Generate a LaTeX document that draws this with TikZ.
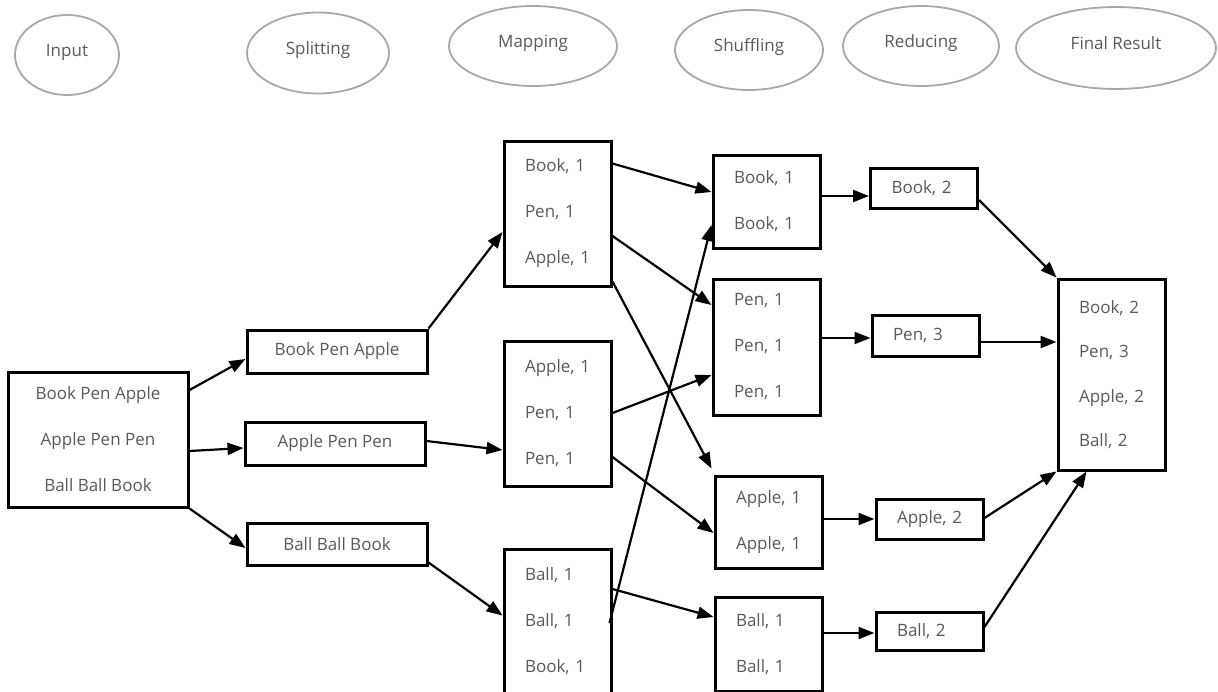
\documentclass[tikz,border=0pt]{standalone}
\usepackage{fontspec}
\setmainfont{Open Sans}
\usetikzlibrary{arrows.meta,shapes.geometric}
\definecolor{txtgray}{HTML}{595959}
\definecolor{ovalgray}{HTML}{A8A8A8}

\begin{document}
\begin{tikzpicture}[x=1pt,y=-1pt,
  stage/.style={ellipse, draw=ovalgray, line width=1.8pt, text=txtgray,
    font=\fontsize{17}{19}\selectfont, inner sep=0pt,
    text height=12pt, text depth=10pt},
  box/.style={draw=black, line width=3pt, text=txtgray,
    font=\fontsize{17}{46}\selectfont, inner sep=0pt},
  listbox/.style={box, text width=65pt, align=left, inner xsep=21pt, inner ysep=0pt,
    minimum width=107pt},
  linebox/.style={box, minimum width=180pt, minimum height=43pt, align=center},
  arr/.style={line width=2.2pt, -{Triangle[length=16pt,width=12pt]}}]
\useasboundingbox (0,0) rectangle (1218,691);

% stage labels
\node[stage, minimum width=104pt, minimum height=80pt] (lInput) at (67,55) {Input};
\node[stage, minimum width=142pt, minimum height=81pt] (lSplit) at (318,53) {Splitting};
\node[stage, minimum width=168pt, minimum height=80pt] (lMap) at (533,46) {Mapping};
\node[stage, minimum width=148pt, minimum height=80pt] (lShuf) at (749,50) {Shuffling};
\node[stage, minimum width=156pt, minimum height=80pt] (lRed) at (921,46) {Reducing};
\node[stage, minimum width=200pt, minimum height=82pt] (lRes) at (1116,48) {Final Result};

% input
\node[box, minimum width=180pt, minimum height=135pt, align=center] (in) at (98,439.5)
  {Book Pen Apple\\Apple Pen Pen\\Ball Ball Book};

% splitting
\node[linebox] (s1) at (337,351.5) {Book Pen Apple};
\node[linebox] (s2) at (335,443.5) {Apple Pen Pen};
\node[linebox, minimum height=42pt] (s3) at (337,544) {Ball Ball Book};

% mapping
\node[listbox, minimum height=145pt] (m1) at (557.5,213.5) {Book, 1\\Pen, 1\\Apple, 1};
\node[listbox, minimum height=145pt] (m2) at (557.5,413.5) {Apple, 1\\Pen, 1\\Pen, 1};
\node[listbox, minimum height=145pt] (m3) at (557.5,621.5) {Ball, 1\\Ball, 1\\Book, 1};

% shuffling
\node[listbox, minimum height=93pt] (sh1) at (766.5,201.5) {Book, 1\\Book, 1};
\node[listbox, minimum height=136pt] (sh2) at (766.5,347) {Pen, 1\\Pen, 1\\Pen, 1};
\node[listbox, minimum height=92pt] (sh3) at (768.5,522) {Apple, 1\\Apple, 1};
\node[listbox, minimum height=94pt] (sh4) at (768.5,644) {Ball, 1\\Ball, 1};

% reducing
\node[listbox, minimum height=40pt] (r1) at (924,188) {Book, 2};
\node[listbox, minimum height=41pt] (r2) at (925.5,335.5) {Pen, 3};
\node[listbox, minimum height=40pt] (r3) at (929.5,519) {Apple, 2};
\node[listbox, minimum height=38pt] (r4) at (929.5,631) {Ball, 2};

% final result
\node[listbox, minimum height=191pt, font=\fontsize{17}{44.3}\selectfont] (fin) at (1111.5,374.5)
  {Book, 2\\Pen, 3\\Apple, 2\\Ball, 2};

% input -> splitting
\draw[arr] ([yshift=49.5pt]in.east) -- ([yshift=-7.5pt]s1.west);
\draw[arr] ([yshift=-11.5pt]in.east) -- ([yshift=-4.5pt]s2.west);
\draw[arr] (in.south east) -- ([yshift=-4pt]s3.west);

% splitting -> mapping
\draw[arr] (s1.north east) -- ([yshift=-18.5pt]m1.west);
\draw[arr] ([yshift=2.5pt]s2.east) -- ([yshift=-36.5pt]m2.west);
\draw[arr] ([yshift=4pt]s3.south east) -- ([yshift=6pt]m3.west);

% mapping -> shuffling
\draw[arr] ([yshift=50pt]m1.east) -- ([yshift=9.5pt]sh1.west);
\draw[arr] ([yshift=-22.5pt]m1.east) -- ([yshift=42pt]sh2.west);
\draw[arr] ([yshift=6pt]m1.south east) -- ([xshift=-2pt,yshift=6pt]sh3.north west);
\draw[arr] ([yshift=0.5pt]m2.east) -- ([yshift=-28pt]sh2.west);
\draw[arr] ([yshift=-43.5pt]m2.east) -- ([yshift=-11pt]sh3.west);
\draw[arr] ([yshift=32.5pt]m3.east) -- ([yshift=27pt]sh4.west);
\draw[arr] ([xshift=-3pt,yshift=-1.5pt]m3.east) -- ([yshift=-23.5pt]sh1.west);

% shuffling -> reducing
\draw[arr] ([yshift=5.5pt]sh1.east) -- ([yshift=-8pt]r1.west);
\draw[arr] ([yshift=9pt]sh2.east) -- ([yshift=-2.5pt]r2.west);
\draw[arr] ([yshift=3pt]sh3.east) -- (r3.west);
\draw[arr] ([yshift=11pt]sh4.east) -- ([yshift=-2pt]r4.west);

% reducing -> final result
\draw[arr] ([yshift=-12pt]r1.east) -- (fin.north west);
\draw[arr] ([yshift=-6.5pt]r2.east) -- ([yshift=32.5pt]fin.west);
\draw[arr] ([yshift=1pt]r3.east) -- (fin.south west);
\draw[arr] ([yshift=4pt]r4.east) -- ([xshift=30pt]fin.south west);
\end{tikzpicture}
\end{document}
